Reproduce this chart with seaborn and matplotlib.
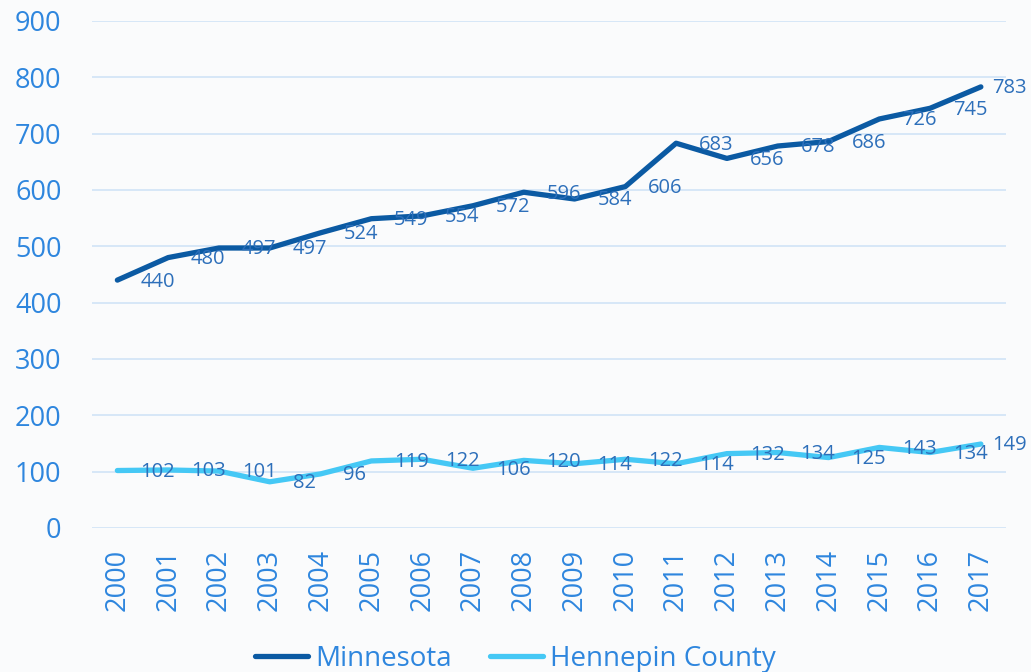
import numpy as np
import pandas as pd
import matplotlib
matplotlib.use('Agg')
import matplotlib.pyplot as plt
import seaborn as sns

# data
years = [str(y) for y in range(2000, 2018)]
minnesota = [440, 480, 497, 497, 524, 549, 554, 572, 596, 584, 606, 683, 656, 678, 686, 726, 745, 783]
hennepin = [102, 103, 101, 82, 96, 119, 122, 106, 120, 114, 122, 114, 132, 134, 125, 143, 134, 149]

sns.set_theme(style='white')
plt.rcParams['font.family'] = ['Open Sans', 'DejaVu Sans']

bg = '#FAFBFC'
tick_col = '#2E86DE'
lab_col = '#2D6FBA'
mn_col = '#0B5AA3'
hc_col = '#45C8F5'

DF = pd.DataFrame({'idx': np.arange(len(years)), 'Minnesota': minnesota, 'Hennepin County': hennepin})

fig = plt.figure(figsize=(10.31, 6.72), dpi=100, facecolor=bg)
ax = fig.add_axes([0.0892, 0.2143, 0.8868, 0.7545])
ax.set_facecolor(bg)

sns.lineplot(data=DF, x='idx', y='Minnesota', ax=ax, color=mn_col, lw=3.8,
             solid_capstyle='round', label='Minnesota')
sns.lineplot(data=DF, x='idx', y='Hennepin County', ax=ax, color=hc_col, lw=3.8,
             solid_capstyle='round', label='Hennepin County')

# data labels to the right of each point
for series in [minnesota, hennepin]:
    for i, v in enumerate(series):
        off = 8 if i == len(series) - 1 else 16.5
        ax.annotate(str(v), (i, v), xytext=(off, -1), textcoords='offset points',
                    ha='left', va='center', fontsize=14.5, color=lab_col)

ax.set_xlim(-0.5, len(years) - 0.5)
ax.set_ylim(0, 900)
ax.set_yticks(range(0, 901, 100))
ax.set_xticks(range(len(years)))
ax.set_xticklabels(years, rotation=90)
ax.tick_params(axis='y', length=0, pad=22, labelsize=19.5, labelcolor=tick_col)
ax.tick_params(axis='x', length=0, pad=15, labelsize=19.5, labelcolor=tick_col)
ax.yaxis.grid(True, color='#D4E5F7', lw=1.3)
ax.set_axisbelow(True)
ax.set_xlabel('')
ax.set_ylabel('')
for s in ax.spines.values():
    s.set_visible(False)

ax.get_legend().remove()
h, l = ax.get_legend_handles_labels()
leg = fig.legend(h, l, loc='center', bbox_to_anchor=(0.5, 0.02), ncol=2, frameon=False,
                 fontsize=20, handlelength=1.9, handletextpad=0.25, columnspacing=1.4)
for t in leg.get_texts():
    t.set_color(tick_col)

fig.savefig('out.png', dpi=100, facecolor=bg)
